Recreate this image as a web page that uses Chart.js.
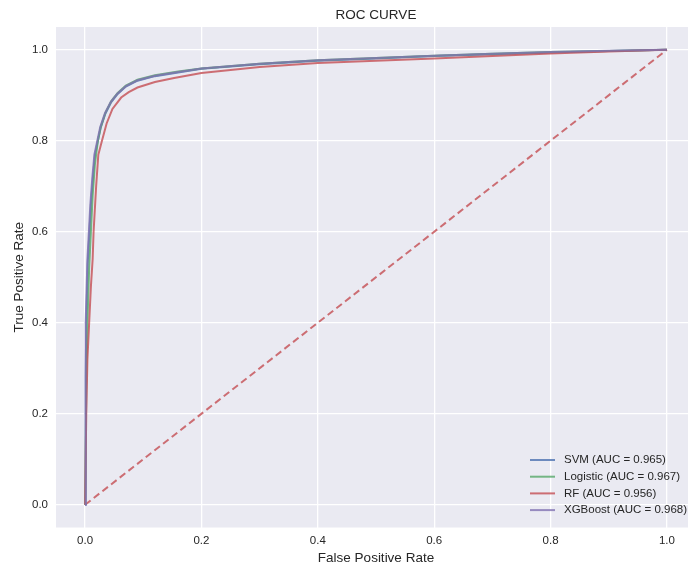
<!DOCTYPE html>
<html>
<head>
<meta charset="utf-8">
<script src="https://cdn.jsdelivr.net/npm/chart.js@4"></script>
<style>
  html, body { margin: 0; padding: 0; background: #fff; overflow: hidden; }
  #wrap { width: 696px; height: 566px; }
</style>
</head>
<body>
<div id="wrap"><canvas id="roc"></canvas></div>
<script>
// ROC curves
const svmFpr = [0, 0.001, 0.002, 0.0045, 0.0075, 0.01, 0.0135, 0.017, 0.022, 0.027, 0.035, 0.045, 0.056, 0.07, 0.09, 0.12, 0.16, 0.2, 0.3, 0.4, 0.5, 0.6, 0.7, 0.8, 0.9, 1];
const svmTpr = [0, 0.28, 0.40, 0.53, 0.60, 0.66, 0.72, 0.77, 0.80, 0.83, 0.86, 0.885, 0.903, 0.919, 0.932, 0.942, 0.950, 0.958, 0.968, 0.976, 0.981, 0.986, 0.990, 0.994, 0.997, 1];
const logFpr = [0, 0.002, 0.004, 0.007, 0.01, 0.013, 0.017, 0.022, 0.027, 0.035, 0.045, 0.056, 0.07, 0.09, 0.12, 0.16, 0.2, 0.3, 0.4, 0.5, 0.6, 0.7, 0.8, 0.9, 1];
const logTpr = [0, 0.25, 0.40, 0.52, 0.60, 0.68, 0.75, 0.80, 0.83, 0.862, 0.887, 0.905, 0.921, 0.934, 0.944, 0.952, 0.959, 0.969, 0.977, 0.982, 0.987, 0.991, 0.995, 0.997, 1];
const rfFpr = [0, 0.002, 0.004, 0.007, 0.01, 0.013, 0.0146, 0.019, 0.0227, 0.029, 0.037, 0.047, 0.062, 0.075, 0.09, 0.12, 0.153, 0.2, 0.3, 0.4, 0.5, 0.6, 0.7, 0.8, 0.9, 1];
const rfTpr = [0, 0.20, 0.32, 0.40, 0.48, 0.54, 0.60, 0.70, 0.769, 0.80, 0.838, 0.870, 0.895, 0.907, 0.917, 0.929, 0.938, 0.949, 0.962, 0.971, 0.976, 0.981, 0.986, 0.992, 0.996, 1];
const xgbFpr = [0, 0.0005, 0.0015, 0.004, 0.0065, 0.009, 0.0125, 0.016, 0.021, 0.026, 0.034, 0.044, 0.055, 0.07, 0.09, 0.12, 0.16, 0.2, 0.3, 0.4, 0.5, 0.6, 0.7, 0.8, 0.9, 1];
const xgbTpr = [0, 0.28, 0.40, 0.54, 0.60, 0.66, 0.72, 0.77, 0.80, 0.83, 0.86, 0.885, 0.903, 0.920, 0.933, 0.943, 0.951, 0.959, 0.969, 0.977, 0.982, 0.987, 0.991, 0.995, 0.998, 1];
const chanceLine = [0, 1];

const modelNames = ["SVM (AUC = 0.965)", "Logistic (AUC = 0.967)", "RF (AUC = 0.956)", "XGBoost (AUC = 0.968)"];
const modelColors = ["rgba(76,114,176,0.8)", "rgba(85,168,104,0.8)", "rgba(196,78,82,0.8)", "rgba(129,114,178,0.8)"];
const xTicks = [0, 0.2, 0.4, 0.6, 0.8, 1.0];
const yTicks = [0, 0.2, 0.4, 0.6, 0.8, 1.0];

function pts(xs, ys) {
  return xs.map((x, i) => ({x: x, y: ys[i]}));
}

const curves = [pts(svmFpr, svmTpr), pts(logFpr, logTpr), pts(rfFpr, rfTpr), pts(xgbFpr, xgbTpr)];

const datasets = curves.map((d, i) => ({
  label: modelNames[i],
  data: d,
  borderColor: modelColors[i],
  borderWidth: 2,
  pointRadius: 0,
  tension: 0,
  fill: false,
  order: 4 - i
}));
datasets.push({
  label: "chance",
  data: pts(chanceLine, chanceLine),
  borderColor: "rgba(196,78,82,0.8)",
  borderWidth: 2,
  borderDash: [7, 4],
  pointRadius: 0,
  fill: false,
  order: 10
});

const TEXT = "#262626";
const FONT = "'Liberation Sans', Arial, sans-serif";

// grey axes background
const plotBg = {
  id: "plotBg",
  beforeDraw(chart) {
    const a = chart.chartArea, c = chart.ctx;
    c.save();
    c.fillStyle = "#fff";
    c.fillRect(0, 0, chart.width, chart.height);
    c.fillStyle = "#EAEAF2";
    c.fillRect(a.left, a.top, a.right - a.left, a.bottom - a.top);
    c.restore();
  }
};

// title centred over the axes, legend inside the plot at lower right
const extras = {
  id: "extras",
  afterDraw(chart) {
    const a = chart.chartArea, c = chart.ctx;
    c.save();
    c.fillStyle = TEXT;
    c.font = "13.5px " + FONT;
    c.textAlign = "center";
    c.textBaseline = "middle";
    c.fillText("ROC CURVE", (a.left + a.right) / 2, 15);

    c.font = "11.5px " + FONT;
    c.textAlign = "left";
    modelNames.forEach((name, i) => {
      const y = a.bottom - 67.5 + i * 16.7;
      c.strokeStyle = modelColors[i];
      c.lineWidth = 2;
      c.beginPath();
      c.moveTo(a.right - 166, y);
      c.lineTo(a.right - 141, y);
      c.stroke();
      c.fillStyle = TEXT;
      c.fillText(name, a.right - 132, y);
    });
    c.restore();
  }
};

new Chart("roc", {
  type: "line",
  data: { datasets: datasets },
  plugins: [plotBg, extras],
  options: {
    responsive: true,
    maintainAspectRatio: false,
    animation: false,
    layout: { padding: { top: 27 } },
    plugins: {
      legend: { display: false },
      tooltip: { enabled: false },
      title: { display: false }
    },
    scales: {
      x: {
        type: "linear",
        min: -0.05,
        max: 1.05,
        afterBuildTicks: s => { s.ticks = xTicks.map(v => ({value: v})); },
        afterFit: s => { s.height = 38.5; },
        border: { display: false },
        grid: { color: "#fff", lineWidth: 1.3, drawTicks: false },
        ticks: {
          color: TEXT,
          padding: 6,
          font: { family: FONT, size: 11.5 },
          callback: v => v.toFixed(1)
        },
        title: {
          display: true,
          text: "False Positive Rate",
          color: TEXT,
          font: { family: FONT, size: 13.5 },
          padding: { top: 4.5, bottom: 0 }
        }
      },
      y: {
        type: "linear",
        min: -0.05,
        max: 1.05,
        afterBuildTicks: s => { s.ticks = yTicks.map(v => ({value: v})); },
        afterFit: s => { s.width = 56; },
        border: { display: false },
        grid: { color: "#fff", lineWidth: 1.3, drawTicks: false },
        ticks: {
          color: TEXT,
          padding: 8,
          font: { family: FONT, size: 11.5 },
          callback: v => v.toFixed(1)
        },
        title: {
          display: true,
          text: "True Positive Rate",
          color: TEXT,
          font: { family: FONT, size: 13.5 },
          padding: { top: 11.5, bottom: 0 }
        }
      }
    }
  }
});
</script>
</body>
</html>
